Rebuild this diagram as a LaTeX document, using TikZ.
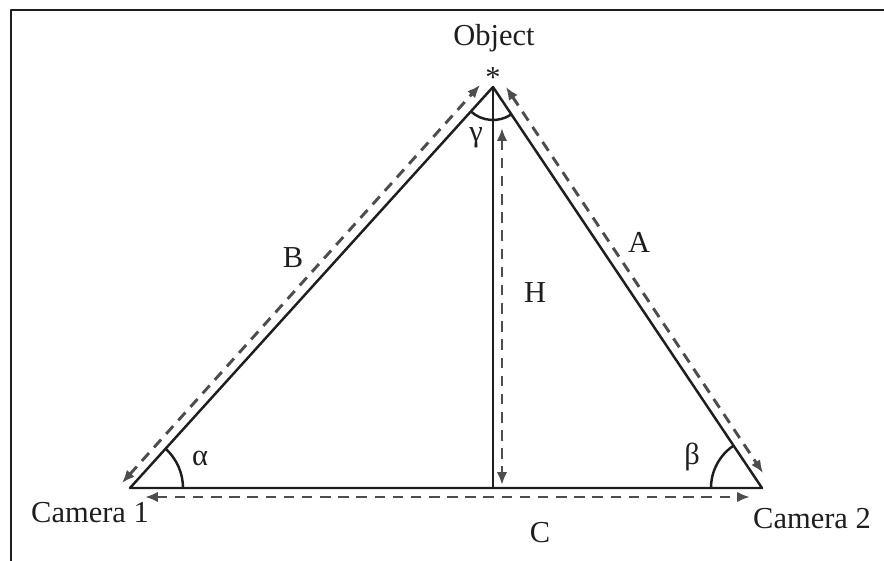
\documentclass[tikz,border=0pt]{standalone}
\usepackage{fontspec}
\setmainfont{Liberation Serif}
\usetikzlibrary{arrows.meta,angles}
\definecolor{dashgray}{HTML}{4D4D4D}
\definecolor{inkblack}{HTML}{1E1E1E}
\tikzset{
  side/.style={inkblack, line width=2.1pt},
  measure/.style={dashgray, line width=2.5pt, dash pattern=on 9pt off 6.5pt,
    {Latex[length=11pt,width=9pt]}-{Latex[length=11pt,width=9pt]}},
  lbl/.style={inkblack, font=\fontsize{26}{30}\selectfont, inner sep=0pt},
  anglearc/.style={draw, inkblack, line width=2.1pt},
}
\begin{document}
\begin{tikzpicture}[x=0.03cm, y=0.03cm, line join=round]
  \useasboundingbox (0,0) rectangle (884,561);
  % Frame
  \draw[inkblack, line width=1.8pt] (11,0) -- (11,551) -- (884,551);

  % Cameras, object and foot of the height
  \coordinate (C1) at (130, 73);
  \coordinate (C2) at (762, 73);
  \coordinate (O) at (493, 474);
  \coordinate (F) at (493, 73);
  \draw[side] (C1) -- (O) -- (C2) -- cycle;
  \draw[side] (O) -- (F);

  % Angles
  \pic[anglearc, angle radius=1.59cm] {angle = C2--C1--O};
  \pic[anglearc, angle radius=1.53cm] {angle = O--C2--C1};
  \pic[anglearc, angle radius=0.99cm] {angle = C1--O--C2};

  % Distances
  \coordinate (B1) at (122, 78);
  \coordinate (B2) at (480, 476);
  \coordinate (A1) at (506, 474);
  \coordinate (A2) at (763, 88);
  \coordinate (H1) at (502, 433);
  \coordinate (H2) at (502, 76);
  \coordinate (Cl) at (145, 64);
  \coordinate (Cr) at (750, 64);
  \draw[measure] (B1) -- (B2);
  \draw[measure] (A1) -- (A2);
  \draw[measure] (H1) -- (H2);
  \draw[measure] (Cl) -- (Cr);

  % Labels
  \node[lbl] (obj) at (494, 523) {Object};
  \node[lbl, anchor=base] (star) at (493, 473) {*};
  \node[lbl] (gam) at (476, 423) {γ};
  \node[lbl] (alp) at (200, 103) {α};
  \node[lbl] (bet) at (692, 104) {β};
  \node[lbl] (labB) at (293, 303) {B};
  \node[lbl] (labA) at (639, 319) {A};
  \node[lbl] (labH) at (535, 268) {H};
  \node[lbl] (labC) at (540, 28) {C};
  \node[lbl] (cam1) at (90, 48) {Camera 1};
  \node[lbl] (cam2) at (812, 42) {Camera 2};
\end{tikzpicture}
\end{document}
